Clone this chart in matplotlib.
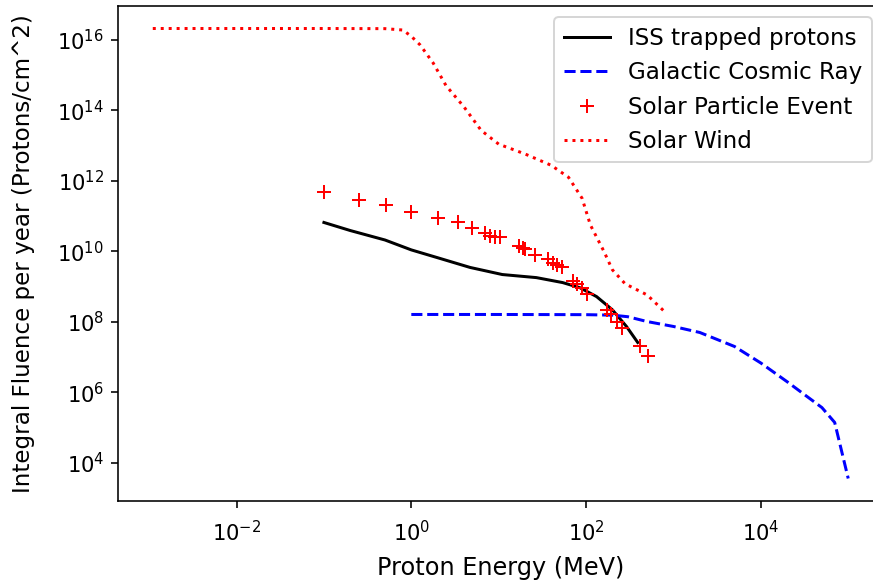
import numpy as np
import matplotlib
matplotlib.use('Agg')
import matplotlib.pyplot as plt

# ISS trapped protons (solid black)
iss_energy = [0.1, 0.2, 0.5, 1, 2, 4.7, 11, 27, 54, 85, 132, 200, 290, 390]
iss_fluence = [6.6e10, 3.9e10, 2.1e10, 1.1e10, 6.6e9, 3.5e9, 2.2e9, 1.8e9,
               1.3e9, 9.3e8, 5.2e8, 2.2e8, 7.4e7, 2.6e7]

# Galactic cosmic ray (dashed blue)
gcr_energy = [1, 10, 100, 200, 300, 500, 1000, 2000, 5000, 1e4, 2e4, 5e4, 7e4, 1e5]
gcr_fluence = [1.62e8, 1.62e8, 1.6e8, 1.55e8, 1.4e8, 1.02e8, 7.4e7, 5.0e7, 2.0e7,
               6.8e6, 2.0e6, 3.7e5, 1.4e5, 3.6e3]

# Solar particle event (red +)
spe_energy = [0.1, 0.25, 0.52, 1.0, 2.0, 3.4, 5.0, 7.0, 8.0, 9.1, 10.4,
              17, 19, 20, 26, 36.5, 41.6, 46, 52.7, 70, 78, 89, 102,
              172, 191, 223, 261, 418, 517]
spe_fluence = [4.9e11, 2.8e11, 2.0e11, 1.35e11, 9.1e10, 6.6e10, 4.5e10,
               3.4e10, 2.8e10, 2.6e10, 2.5e10, 1.45e10, 1.28e10, 1.13e10,
               8.1e9, 5.9e9, 4.8e9, 4.0e9, 3.5e9, 1.48e9, 1.15e9, 9.4e8,
               6.3e8, 2.2e8, 1.7e8, 1.0e8, 6.9e7, 2.0e7, 1.05e7]

# Solar wind (dotted red)
sw_energy = [0.0011, 0.01, 0.1, 0.5, 0.8, 1.0, 1.26, 1.78, 2.5, 4.0, 6.3,
             10, 20, 40, 63, 90, 112, 160, 200, 280, 500, 800]
sw_fluence = [2.1e16, 2.1e16, 2.1e16, 2.08e16, 1.9e16, 1.26e16, 7.2e15,
              2.2e15, 5.0e14, 1.26e14, 2.7e13, 1.1e13, 5.8e12, 2.75e12,
              1.26e12, 3.2e11, 5.6e10, 1.0e10, 3.0e9, 1.2e9, 5.8e8, 1.9e8]

x_ticks = [1e-2, 1, 1e2, 1e4]
y_ticks = [1e4, 1e6, 1e8, 1e10, 1e12, 1e14, 1e16]

fig = plt.figure(figsize=(873/144, 581/144), dpi=144)
ax = fig.add_axes([118/873, 1 - 501/581, (883 - 118)/873, (501 - 6)/581])

ax.plot(iss_energy, iss_fluence, 'k-', label='ISS trapped protons')
ax.plot(gcr_energy, gcr_fluence, 'b--', label='Galactic Cosmic Ray')
ax.plot(spe_energy, spe_fluence, 'r+', markersize=7, label='Solar Particle Event')
ax.plot(sw_energy, sw_fluence, 'r:', label='Solar Wind')

ax.set_xscale('log')
ax.set_yscale('log')
ax.set_xticks(x_ticks)
ax.set_yticks(y_ticks)
ax.minorticks_off()
ax.tick_params(axis='x', labelsize=10.5, pad=6)
ax.tick_params(axis='y', labelsize=10.5)

ax.set_xlabel('Proton Energy (MeV)', fontsize=12)
ax.set_ylabel('Integral Fluence per year (Protons/cm^2)', fontsize=11.5)
ax.xaxis.set_label_coords(0.5, -0.112)
ax.yaxis.set_label_coords(-0.108, 0.5)
ax.legend(loc='upper right', fontsize=11.5)

fig.savefig('out.png', dpi=144)
